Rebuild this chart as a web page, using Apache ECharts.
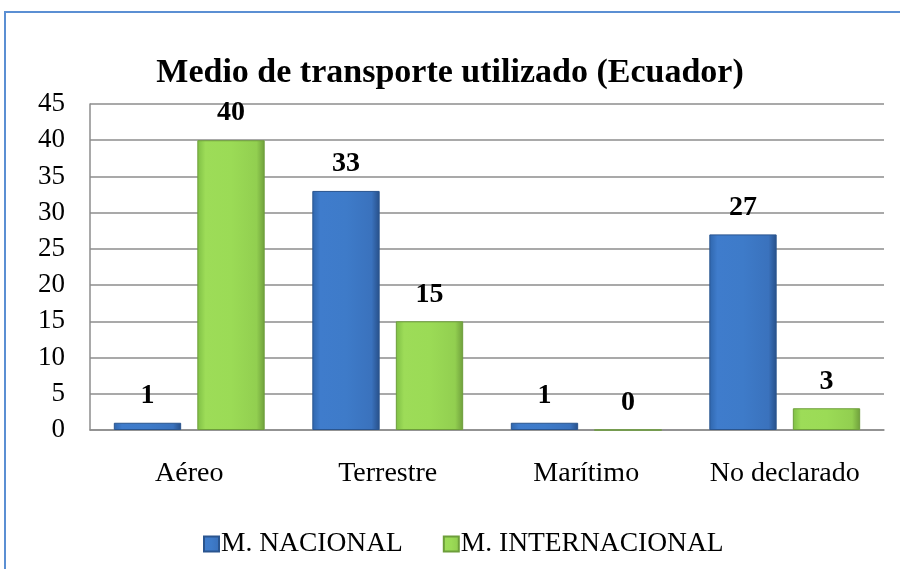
<!DOCTYPE html>
<html>
<head>
<meta charset="utf-8">
<script src="https://cdn.jsdelivr.net/npm/echarts@6/dist/echarts.min.js"></script>
<style>
  html, body { margin: 0; padding: 0; background: #fff; }
  #chart { width: 900px; height: 569px; }
</style>
</head>
<body>
<div id="chart"></div>
<script>
const categories = ['Aéreo', 'Terrestre', 'Marítimo', 'No declarado']
const nacional = [1, 33, 1, 27]
const internacional = [40, 15, 0, 3]
const seriesNames = ['M. NACIONAL', 'M. INTERNACIONAL']
const yTicks = { min: 0, max: 45, interval: 5 }

const font = '"Liberation Serif", "Times New Roman", serif'

const blueFill = new echarts.graphic.LinearGradient(0, 0, 1, 0, [
  { offset: 0, color: '#2f66ad' },
  { offset: 0.12, color: '#3f7ccc' },
  { offset: 0.5, color: '#3e7bc9' },
  { offset: 0.88, color: '#3a72bd' },
  { offset: 1, color: '#274f88' }
])
const greenFill = new echarts.graphic.LinearGradient(0, 0, 1, 0, [
  { offset: 0, color: '#7fbf45' },
  { offset: 0.12, color: '#9ddc58' },
  { offset: 0.5, color: '#9bdb56' },
  { offset: 0.88, color: '#92cf50' },
  { offset: 1, color: '#6f9f3c' }
])

const chart = echarts.init(document.getElementById('chart'))

const labelStyle = {
  show: true,
  position: 'top',
  distance: 13,
  fontFamily: font,
  fontWeight: 'bold',
  fontSize: 28,
  color: '#000'
}

chart.setOption({
  animation: false,
  textStyle: { fontFamily: font },
  title: {
    text: 'Medio de transporte utilizado (Ecuador)',
    left: 'center',
    top: 51,
    textStyle: { fontFamily: font, fontWeight: 'bold', fontSize: 34, color: '#000' }
  },
  graphic: [{
    type: 'polyline',
    shape: { points: [[5, 569], [5, 12], [900, 12]] },
    style: { stroke: '#5b8fd3', lineWidth: 2, fill: null }
  }],
  legend: {
    bottom: 11,
    left: 203,
    padding: 0,
    itemWidth: 15,
    itemHeight: 15,
    itemGap: 40,
    icon: 'rect',
    textStyle: { fontFamily: font, fontSize: 27.5, color: '#000', padding: [0, 0, 0, -3] },
    data: seriesNames
  },
  grid: { left: 90, right: 16, top: 104, bottom: 139 },
  xAxis: {
    type: 'category',
    data: categories,
    axisLine: { lineStyle: { color: '#8c8c8c', width: 1.5 } },
    axisTick: { show: false },
    axisLabel: { fontFamily: font, fontSize: 28, color: '#000', margin: 30 }
  },
  yAxis: {
    type: 'value',
    min: yTicks.min,
    max: yTicks.max,
    interval: yTicks.interval,
    axisLine: { show: true, lineStyle: { color: '#8c8c8c', width: 1.5 } },
    axisTick: { show: false },
    splitLine: { lineStyle: { color: '#8c8c8c', width: 1.5 } },
    axisLabel: { fontFamily: font, fontSize: 27, color: '#000', margin: 25 }
  },
  series: [
    {
      name: seriesNames[0],
      type: 'bar',
      data: nacional,
      barGap: '24%',
      barCategoryGap: '24%',
      itemStyle: { color: blueFill, borderColor: '#2a558f', borderWidth: 1 },
      label: labelStyle
    },
    {
      name: seriesNames[1],
      type: 'bar',
      data: internacional,
      itemStyle: { color: greenFill, borderColor: '#6d9e3a', borderWidth: 1 },
      label: labelStyle
    }
  ]
})
</script>
</body>
</html>
